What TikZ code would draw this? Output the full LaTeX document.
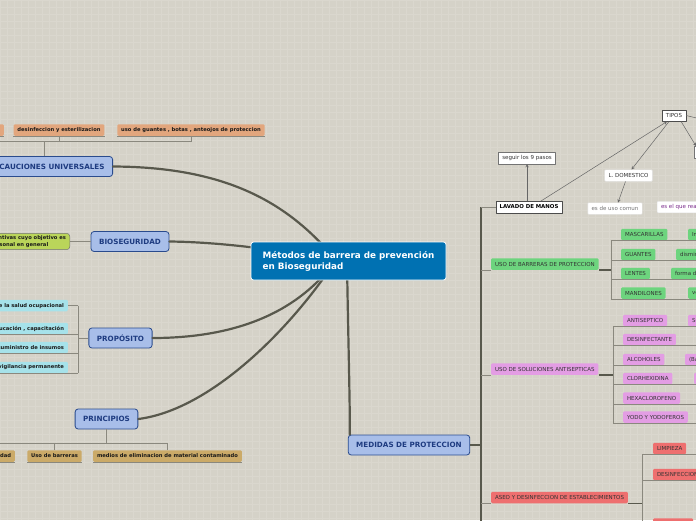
\documentclass[tikz,border=0pt]{standalone}
\usepackage{fontspec}
\setmainfont{DejaVu Sans}
\usetikzlibrary{positioning,arrows.meta}
\definecolor{bgc}{HTML}{D5D2C8}
\definecolor{gridc}{HTML}{DAD7CE}
\definecolor{centralc}{HTML}{0071B2}
\definecolor{topicc}{HTML}{A8BEE9}
\definecolor{topicd}{HTML}{2A4B8D}
\definecolor{topict}{HTML}{1E3B80}
\definecolor{branchc}{HTML}{58584C}
\definecolor{linkc}{HTML}{8A887E}
\definecolor{tanc}{HTML}{E2A67D}
\definecolor{khakic}{HTML}{CBAA68}
\definecolor{cyanc}{HTML}{A6E2EA}
\definecolor{limec}{HTML}{BAD55A}
\definecolor{greenc}{HTML}{6DD47E}
\definecolor{pinkc}{HTML}{E39DE4}
\definecolor{redc}{HTML}{EE6F6F}
\definecolor{purplet}{HTML}{7A2A8A}
\tikzset{
  central/.style={fill=centralc, draw=white, line width=0.8pt, rounded corners=2.5pt, text=white,
    font=\fontsize{8.8}{11}\selectfont\bfseries, align=left, inner xsep=10pt, minimum width=195pt, minimum height=38pt},
  topic/.style={fill=topicc, draw=topicd, line width=0.8pt, rounded corners=3pt, text=topict,
    font=\fontsize{7.2}{8.5}\selectfont\bfseries, minimum height=20pt, inner xsep=8pt},
  leaf/.style={rounded corners=1.2pt, minimum height=11.5pt, inner xsep=3.8pt, inner ysep=1pt,
    font=\fontsize{5.5}{6.5}\selectfont, text=black!80},
  boldleaf/.style={leaf, font=\fontsize{5.2}{6.2}\selectfont\bfseries, text=black!90},
  tanleaf/.style={boldleaf, fill=tanc},
  khakileaf/.style={boldleaf, fill=khakic},
  cyanleaf/.style={boldleaf, fill=cyanc},
  limeleaf/.style={boldleaf, fill=limec, draw=black!55, line width=0.5pt, rounded corners=3pt, align=left, inner ysep=2.5pt},
  greenleaf/.style={leaf, fill=greenc},
  pinkleaf/.style={leaf, fill=pinkc},
  redleaf/.style={leaf, fill=redc},
  whitebox/.style={leaf, fill=white, draw=black!55, line width=0.5pt, rounded corners=0pt},
  plainbox/.style={leaf, fill=white, draw=black!12, line width=0.4pt, rounded corners=0.8pt},
  branch/.style={draw=branchc, line width=2.2pt, line cap=round},
  spine/.style={draw=branchc, line width=1.1pt},
  link/.style={draw=linkc, line width=0.7pt},
  tip/.style={draw=black!60, line width=0.5pt, ->},
}
\begin{document}
\begin{tikzpicture}[x=1pt, y=-1pt, line join=round, >=stealth]
  \useasboundingbox (0,0) rectangle (696,520);
  \clip (0,0) rectangle (696,520);
  % background
  \fill[bgc] (0,0) rectangle (696,520);
  \foreach \g in {0,7,...,700} {
    \draw[gridc, line width=1pt] (\g,0) -- (\g,520);
    \draw[gridc, line width=1pt] (0,\g) -- (696,\g);
  }

  % main topics
  \node[topic, anchor=east] (prec) at (113,166.5) {PRECAUCIONES UNIVERSALES};
  \node[topic] (bio) at (130,241.5) {BIOSEGURIDAD};
  \node[topic] (prop) at (120.5,338) {PROPÓSITO};
  \node[topic] (prin) at (106.5,419) {PRINCIPIOS};
  \node[topic] (med) at (409,445) {MEDIDAS DE PROTECCION};

  % branches to the root
  \coordinate (hub) at (336,260);
  \coordinate (hubm) at (347,262);
  \draw[branch] (prec.east) .. controls (230,167) and (290,205) .. (hub);
  \draw[branch] (bio.east) .. controls (220,242) and (280,250) .. (hub);
  \draw[branch] (prop.east) .. controls (240,338) and (300,310) .. (hub);
  \draw[branch] (prin.east) .. controls (210,410) and (290,330) .. (hub);
  \draw[branch] (hubm) .. controls (348,330) and (350,400) .. ([xshift=2pt]med.north west);

  \node[central] (root) at (348.5,261) {Métodos de barrera de prevención\\en Bioseguridad};

  % precauciones universales
  \node[tanleaf, anchor=east, minimum width=40pt] (pu0) at (4,130) {};
  \node[tanleaf] (pu1) at (59,130) {desinfeccion y esterilizacion};
  \node[tanleaf] (pu2) at (191,130) {uso de guantes , botas , anteojos de proteccion};
  \coordinate (puj) at (45,141.5);
  \draw[link] (prec.north) -- (prec.north |- puj);
  \draw[link] (pu0.south |- puj) -- (pu2.south |- puj);
  \foreach \n in {pu0,pu1,pu2} {
    \draw[link] (\n.south west) -- (\n.south east);
    \draw[link] (\n.south) -- (\n.south |- puj);
  }

  % bioseguridad
  \node[limeleaf, anchor=east] (bio1) at (70,241.5) {medidas preventivas cuyo objetivo es\\proteger al personal en general};
  \draw[link] (bio1) -- (bio);

  % proposito
  \node[cyanleaf, anchor=east] (pp1) at (68,305.5) {protección de la salud ocupacional};
  \node[cyanleaf, anchor=east] (pp2) at (68,328.5) {educación , capacitación};
  \node[cyanleaf, anchor=east] (pp3) at (68,347.5) {suministro de insumos};
  \node[cyanleaf, anchor=east] (pp4) at (68,367.5) {vigilancia permanente};
  \coordinate (ppx) at (78,0);
  \draw[link] (pp1.east -| ppx) -- (pp4.south -| ppx);
  \draw[link] (pp1.east) -- (pp1.east -| ppx);
  \foreach \n in {pp2,pp3,pp4}
    \draw[link] (\n.south west) -- (\n.south -| ppx);
  \draw[link] (prop.west) -- (prop.west -| ppx);

  % principios
  \node[khakileaf, anchor=east] (pr1) at (15,456) {Universalidad};
  \node[khakileaf] (pr2) at (54.5,456) {Uso de barreras};
  \node[khakileaf] (pr3) at (167.5,456) {medios de eliminacion de material contaminado};
  \coordinate (prj) at (107,443);
  \draw[link] (prin.south) -- (prin.south |- prj);
  \draw[link] (pr1.north |- prj) -- (pr3.north |- prj);
  \foreach \n in {pr1,pr2,pr3} {
    \draw[link] (\n.south west) -- (\n.south east);
    \draw[link] (\n.north) -- (\n.north |- prj);
  }

  % medidas de proteccion
  \coordinate (sp) at (481,0);
  \node[whitebox, font=\fontsize{5.4}{6.4}\selectfont\bfseries, draw=black!70, text=black] (lav) at (529,207) {LAVADO DE MANOS};
  \draw[spine] (lav.west -| sp) -- (481,530);
  \draw[spine] (med.east) -- (med.east -| sp);
  \draw[link] (lav.west -| sp) -- (lav.west);

  \node[whitebox] (seg) at (527,158) {seguir los 9 pasos};
  \node[whitebox, draw=black!70] (tipos) at (674,115.5) {TIPOS};
  \node[plainbox] (ldom) at (628.5,175.5) {L. DOMESTICO};
  \node[plainbox, text=black!55] (comun) at (615,208.5) {es de uso comun};
  \node[plainbox, text=purplet, anchor=west] (rea) at (657,207) {es el que realiza el personal de salud};
  \node[whitebox, anchor=west, minimum width=40pt] (lqui) at (694,152) {};
  \coordinate (tipr) at (730,126);
  \draw[tip] (lav.north -| seg) -- (seg.south);
  \draw[tip] ([xshift=12pt]lav.north) -- ([xshift=-7pt]tipos.south);
  \draw[tip] ([xshift=-5pt]tipos.south) -- ([xshift=3pt]ldom.north);
  \draw[tip] ([xshift=-3pt]ldom.south) -- ([xshift=3pt]comun.north);
  \draw[tip] ([xshift=-5pt]tipos.south east) -- ([xshift=2pt]lqui.north west);
  \draw[tip] (tipos.east) -- (tipr);

  % barreras
  \node[greenleaf, anchor=west] (bar) at (491,264) {USO DE BARRERAS DE PROTECCION};
  \coordinate (bx) at (611,0);
  \draw[link] (sp |- bar.south) -- (bar.south west);
  \draw[spine] (bar.south east) -- (bar.south -| bx);
  \node[greenleaf, anchor=west] (b1) at (621,234.5) {MASCARILLAS};
  \node[greenleaf, anchor=west] (b2) at (621,254.5) {GUANTES};
  \node[greenleaf, anchor=west] (b3) at (621,273.5) {LENTES};
  \node[greenleaf, anchor=west] (b4) at (621,293) {MANDILONES};
  \node[greenleaf, anchor=west] (b1a) at (688,234.5) {Impiden el paso de microorganismos};
  \node[greenleaf, anchor=west] (b2a) at (676,254.5) {disminuyen el riesgo de contagio};
  \node[greenleaf, anchor=west] (b3a) at (671,273.5) {forma de proteccion ocular};
  \node[greenleaf, anchor=west] (b4a) at (688,293) {vestimenta de proteccion};
  \draw[link] (b1.south -| bx) -- (b4.south -| bx);
  \foreach \n in {b1,b2,b3,b4}
    \draw[link] (\n.south -| bx) -- ++(100,0);

  % soluciones antisepticas
  \node[pinkleaf, anchor=west] (sol) at (491,369) {USO DE SOLUCIONES ANTISEPTICAS};
  \coordinate (sx) at (613,0);
  \draw[link] (sp |- sol.south) -- (sol.south west);
  \draw[spine] (sol.south east) -- (sol.south -| sx);
  \node[pinkleaf, anchor=west] (s1) at (623,320.5) {ANTISEPTICO};
  \node[pinkleaf, anchor=west] (s2) at (623,339.5) {DESINFECTANTE};
  \node[pinkleaf, anchor=west] (s3) at (623,359.5) {ALCOHOLES};
  \node[pinkleaf, anchor=west] (s4) at (623,378.5) {CLORHEXIDINA};
  \node[pinkleaf, anchor=west] (s5) at (623,398) {HEXACLOROFENO};
  \node[pinkleaf, anchor=west] (s6) at (623,417) {YODO Y YODOFEROS};
  \node[pinkleaf, anchor=west] (s1a) at (688,320.5) {Sustancias que inhiben microorganismos};
  \node[pinkleaf, anchor=west] (s3a) at (685,359.5) {(Bactericidas)};
  \node[pinkleaf, anchor=west, minimum width=40pt] (s4a) at (694,378.5) {};
  \draw[link] (s1.south -| sx) -- (s6.south -| sx);
  \foreach \n in {s1,s2,s3,s4,s5,s6}
    \draw[link] (\n.south -| sx) -- ++(100,0);

  % aseo y desinfeccion
  \node[redleaf, anchor=west] (aseo) at (491,497.5) {ASEO Y DESINFECCION DE ESTABLECIMIENTOS};
  \coordinate (ax) at (642,0);
  \draw[link] (sp |- aseo.south) -- (aseo.south west);
  \draw[spine] (aseo.south east) -- (aseo.south -| ax);
  \node[redleaf, anchor=west] (a1) at (653,448.5) {LIMPIEZA};
  \node[redleaf, anchor=west] (a2) at (653,474.5) {DESINFECCION};
  \node[redleaf, anchor=west, minimum width=40pt] (a3) at (653,524) {};
  \draw[link] (a1.south -| ax) -- (642,530);
  \foreach \n in {a1,a2}
    \draw[link] (\n.south -| ax) -- ++(100,0);
\end{tikzpicture}
\end{document}
